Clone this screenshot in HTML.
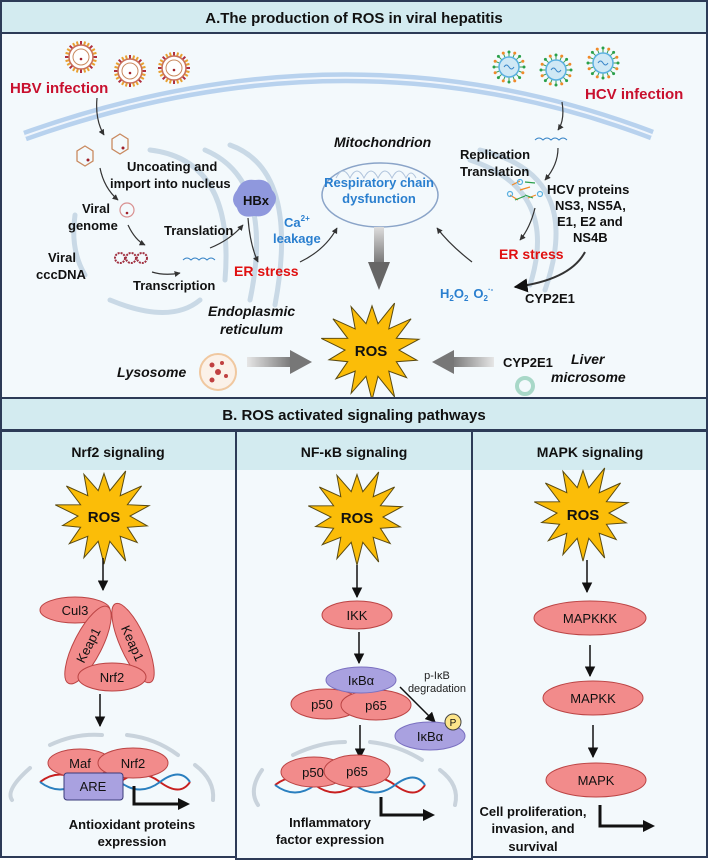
<!DOCTYPE html>
<html><head><meta charset="utf-8"><style>
html,body{margin:0;padding:0;background:#fff}
svg{display:block;font-family:"Liberation Sans",Arial,sans-serif}
.b{font-weight:bold}
</style></head><body>
<svg id="s" width="708" height="860" viewBox="0 0 708 860" xmlns="http://www.w3.org/2000/svg">
<defs>
<marker id="ah" viewBox="0 0 10 10" refX="9" refY="5" markerWidth="7" markerHeight="7" orient="auto-start-reverse"><path d="M0,0L10,5L0,10z" fill="#111"/></marker>
<marker id="ahs" viewBox="0 0 10 10" refX="9" refY="5" markerWidth="5" markerHeight="5" orient="auto"><path d="M0,0L10,5L0,10z" fill="#333"/></marker>
<linearGradient id="gd" x1="0" y1="0" x2="0" y2="1"><stop offset="0" stop-color="#ddd"/><stop offset="1" stop-color="#777"/></linearGradient>
<linearGradient id="gr" x1="0" y1="0" x2="1" y2="0"><stop offset="0" stop-color="#e6e6e6"/><stop offset="1" stop-color="#777"/></linearGradient>
<linearGradient id="gl" x1="1" y1="0" x2="0" y2="0"><stop offset="0" stop-color="#e6e6e6"/><stop offset="1" stop-color="#777"/></linearGradient>
</defs>
<!-- Panel A -->
<rect x="1" y="1" width="706" height="397" fill="#f3f9fc" stroke="#2d3b57" stroke-width="2"/>
<rect x="1" y="1" width="706" height="32" fill="#d3ebf0" stroke="#2d3b57" stroke-width="2"/>
<text x="354" y="23" text-anchor="middle" font-size="15" class="b" fill="#111">A.The production of ROS in viral hepatitis</text>
<!-- membrane -->
<path d="M25,136 Q350,20 652,135" fill="none" stroke="#b8d2ee" stroke-width="11"/>
<path d="M25,136 Q350,20 652,135" fill="none" stroke="#fff" stroke-width="2" opacity="0.8"/>
<!-- nucleus arcs -->
<g fill="none" stroke="#c9d9e6" stroke-width="5" stroke-linecap="round">
<path d="M110,300 Q170,325 200,300"/><path d="M85,275 Q70,250 75,215"/><path d="M150,150 Q235,160 225,280"/>
<path d="M205,150 Q275,180 250,300"/><path d="M230,145 Q300,170 275,305"/>
<path d="M470,160 Q560,190 530,285"/><path d="M480,150 Q585,175 545,290"/>
</g>
<ellipse cx="380" cy="195" rx="58" ry="32" fill="none" stroke="#8aa4c8" stroke-width="1.5"/>
<path d="M336,178 q7,-14 14,0 q7,-14 14,0 q7,-14 14,0 q7,-14 14,0 q7,-14 14,0 q5,-10 10,0" fill="none" stroke="#b0c4dc" stroke-width="1"/>
<!-- HBV viruses -->
<g id="hbv"></g>
<g id="hcv"></g>
<text x="10" y="93" font-size="15" class="b" fill="#c8102e">HBV infection</text>
<text x="585" y="99" font-size="15" class="b" fill="#c8102e">HCV infection</text>
<path d="M97,98 Q95,120 104,135" fill="none" stroke="#333" stroke-width="1.2" marker-end="url(#ahs)"/>
<polygon points="85,146 93,151 93,161 85,166 77,161 77,151" fill="none" stroke="#c98a60" stroke-width="1.3"/>
<polygon points="120,134 128,139 128,149 120,154 112,149 112,139" fill="none" stroke="#c98a60" stroke-width="1.3"/>
<circle cx="88" cy="160" r="1.5" fill="#a0202a"/><circle cx="123" cy="148" r="1.5" fill="#a0202a"/>
<path d="M100,168 Q104,188 118,200" fill="none" stroke="#333" stroke-width="1.2" marker-end="url(#ahs)"/>
<text x="127" y="171" font-size="13" class="b" fill="#111">Uncoating and</text>
<text x="110" y="188" font-size="13" class="b" fill="#111">import into nucleus</text>
<circle cx="127" cy="210" r="7" fill="none" stroke="#d99090" stroke-width="1.2"/><circle cx="127" cy="213" r="1.3" fill="#a0202a"/>
<text x="82" y="213" font-size="13" class="b" fill="#111">Viral</text>
<text x="68" y="230" font-size="13" class="b" fill="#111">genome</text>
<text x="48" y="262" font-size="13" class="b" fill="#111">Viral</text>
<text x="36" y="279" font-size="13" class="b" fill="#111">cccDNA</text>
<g fill="none" stroke="#a03040" stroke-width="2" stroke-dasharray="2,1"><circle cx="120" cy="258" r="5"/><circle cx="131" cy="258" r="5"/><circle cx="142" cy="258" r="5"/></g>
<path d="M128,225 Q135,240 145,245" fill="none" stroke="#333" stroke-width="1.2" marker-end="url(#ahs)"/>
<path d="M152,272 Q165,276 180,273" fill="none" stroke="#333" stroke-width="1.2" marker-end="url(#ahs)"/>
<path d="M183,260 q4,-4 8,0 q4,-4 8,0 q4,-4 8,0 q4,-4 8,0" fill="none" stroke="#3a86c8" stroke-width="1"/>
<text x="164" y="235" font-size="13" class="b" fill="#111">Translation</text>
<text x="133" y="290" font-size="13" class="b" fill="#111">Transcription</text>
<path d="M210,248 Q230,240 243,225" fill="none" stroke="#333" stroke-width="1.2" marker-end="url(#ahs)"/>
<path d="M248,218 Q250,245 258,262" fill="none" stroke="#333" stroke-width="1.2" marker-end="url(#ahs)"/>
<path d="M237,190 q5,-12 18,-10 q14,-2 17,10 q8,8 0,18 q-5,10 -18,8 q-14,3 -17,-8 q-8,-8 0,-18z" fill="#8f98dd"/>
<text x="243" y="205" font-size="13" class="b" fill="#111">HBx</text>
<text x="284" y="227" font-size="13" class="b" fill="#2a7fcf">Ca<tspan font-size="8" dy="-6">2+</tspan></text>
<text x="273" y="243" font-size="13" class="b" fill="#2a7fcf">leakage</text>
<text x="234" y="276" font-size="14" class="b" fill="#e01010">ER stress</text>
<path d="M300,262 Q325,250 337,228" fill="none" stroke="#333" stroke-width="1.2" marker-end="url(#ahs)"/>
<text x="208" y="316" font-size="14" class="b" font-style="italic" fill="#111">Endoplasmic</text>
<text x="220" y="334" font-size="14" class="b" font-style="italic" fill="#111">reticulum</text>
<text x="334" y="147" font-size="14" class="b" font-style="italic" fill="#111">Mitochondrion</text>
<text x="379" y="187" text-anchor="middle" font-size="13" class="b" fill="#2a7fcf">Respiratory chain</text>
<text x="379" y="203" text-anchor="middle" font-size="13" class="b" fill="#2a7fcf">dysfunction</text>
<rect x="374" y="227" width="10" height="36" fill="url(#gd)"/>
<polygon points="368,262 390,262 379,290" fill="#666"/>
<path d="M562,102 Q565,120 558,130" fill="none" stroke="#333" stroke-width="1.2" marker-end="url(#ahs)"/>
<path d="M535,140 q4,-4 8,0 q4,-4 8,0 q4,-4 8,0 q4,-4 8,0" fill="none" stroke="#3a86c8" stroke-width="1"/>
<path d="M558,148 Q558,165 545,180" fill="none" stroke="#333" stroke-width="1.2" marker-end="url(#ahs)"/>
<text x="460" y="159" font-size="13" class="b" fill="#111">Replication</text>
<text x="460" y="176" font-size="13" class="b" fill="#111">Translation</text>
<g stroke-width="1.2"><path d="M512,185 l8,-4 M520,190 l10,-3 M510,195 l8,5 M528,198 l8,-3" stroke="#f08a2a"/><path d="M525,182 l10,1 M515,200 l10,-4 M525,195 l8,3" stroke="#2aa04a"/>
<circle cx="520" cy="182" r="2.5" fill="none" stroke="#5ab0e0"/><circle cx="510" cy="194" r="2.5" fill="none" stroke="#5ab0e0"/><circle cx="540" cy="194" r="2.5" fill="none" stroke="#5ab0e0"/></g>
<text x="547" y="194" font-size="13" class="b" fill="#111">HCV proteins</text>
<text x="555" y="210" font-size="13" class="b" fill="#111">NS3, NS5A,</text>
<text x="557" y="226" font-size="13" class="b" fill="#111">E1, E2 and</text>
<text x="573" y="242" font-size="13" class="b" fill="#111">NS4B</text>
<path d="M535,208 Q530,228 520,240" fill="none" stroke="#333" stroke-width="1.2" marker-end="url(#ahs)"/>
<text x="499" y="259" font-size="14" class="b" fill="#e01010">ER stress</text>
<path d="M585,252 Q570,280 515,287" fill="none" stroke="#333" stroke-width="2" marker-end="url(#ah)"/>
<text x="440" y="298" font-size="13" class="b" fill="#2a7fcf">H<tspan font-size="8" dy="3">2</tspan><tspan dy="-3">O</tspan><tspan font-size="8" dy="3">2</tspan><tspan dy="-3" dx="5">O</tspan><tspan font-size="8" dy="3">2</tspan><tspan font-size="8" dy="-9">·-</tspan></text>
<text x="525" y="303" font-size="13" class="b" fill="#111">CYP2E1</text>
<path d="M472,262 Q450,245 437,228" fill="none" stroke="#333" stroke-width="1.2" marker-end="url(#ahs)"/>
<!-- ROS central -->
<g id="starA"></g>
<text x="371" y="356" text-anchor="middle" font-size="15" class="b" fill="#111">ROS</text>
<circle cx="218" cy="372" r="18" fill="#fbf1e8" stroke="#f0c8a0" stroke-width="2"/>
<g fill="#c04040"><circle cx="212" cy="365" r="2.5"/><circle cx="222" cy="363" r="2"/><circle cx="218" cy="372" r="3"/><circle cx="226" cy="376" r="2"/><circle cx="212" cy="380" r="2.5"/></g>
<text x="117" y="377" font-size="14" class="b" font-style="italic" fill="#111">Lysosome</text>
<rect x="247" y="357" width="45" height="10" fill="url(#gr)"/><polygon points="290,350 312,362 290,374" fill="#777"/>
<rect x="452" y="357" width="42" height="10" fill="url(#gl)"/><polygon points="454,350 432,362 454,374" fill="#777"/>
<text x="503" y="367" font-size="13" class="b" fill="#111">CYP2E1</text>
<text x="571" y="364" font-size="14" class="b" font-style="italic" fill="#111">Liver</text>
<text x="551" y="382" font-size="14" class="b" font-style="italic" fill="#111">microsome</text>
<circle cx="525" cy="386" r="8" fill="none" stroke="#a8d8c8" stroke-width="4"/>
<!-- Panel B header -->
<rect x="1" y="398" width="706" height="32" fill="#d3ebf0" stroke="#2d3b57" stroke-width="2"/>
<text x="354" y="420" text-anchor="middle" font-size="15" class="b" fill="#111">B. ROS activated signaling pathways</text>
<!-- columns -->
<g stroke="#2d3b57" stroke-width="2">
<rect x="1" y="431" width="235" height="426" fill="#f3f9fc"/>
<rect x="236" y="431" width="236" height="428" fill="#f3f9fc"/>
<rect x="472" y="431" width="235" height="426" fill="#f3f9fc"/>
</g>
<rect x="2" y="432" width="233" height="38" fill="#d3ebf0"/>
<rect x="237" y="432" width="234" height="38" fill="#d3ebf0"/>
<rect x="473" y="432" width="233" height="38" fill="#d3ebf0"/>
<text x="118" y="457" text-anchor="middle" font-size="14" class="b" fill="#111">Nrf2 signaling</text>
<text x="354" y="457" text-anchor="middle" font-size="14" class="b" fill="#111">NF-κB signaling</text>
<text x="590" y="457" text-anchor="middle" font-size="14" class="b" fill="#111">MAPK signaling</text>
<g id="stars"></g>
<text x="104" y="522" text-anchor="middle" font-size="15" class="b" fill="#111">ROS</text>
<text x="357" y="523" text-anchor="middle" font-size="15" class="b" fill="#111">ROS</text>
<text x="583" y="520" text-anchor="middle" font-size="15" class="b" fill="#111">ROS</text>
<g stroke="#111" stroke-width="1.5" marker-end="url(#ah)">
<line x1="103" y1="558" x2="103" y2="590"/><line x1="100" y1="694" x2="100" y2="726"/>
<line x1="357" y1="565" x2="357" y2="597"/><line x1="359" y1="632" x2="359" y2="663"/><line x1="360" y1="725" x2="360" y2="758"/>
<line x1="400" y1="687" x2="435" y2="722"/>
<line x1="587" y1="560" x2="587" y2="592"/><line x1="590" y1="645" x2="590" y2="676"/><line x1="593" y1="725" x2="593" y2="757"/>
</g>
<!-- nucleus arcs B -->
<g fill="none" stroke="#c9d3dc" stroke-width="4" stroke-linecap="round">
<path d="M50,745 Q75,733 102,735"/><path d="M127,735 Q155,738 178,755"/><path d="M30,768 Q5,790 12,800"/><path d="M195,765 Q215,780 213,800"/>
<path d="M293,755 Q320,742 345,742"/><path d="M370,742 Q398,745 422,760"/><path d="M262,770 Q248,790 258,805"/><path d="M440,770 Q460,785 455,805"/>
</g>
<g stroke="#b44" stroke-width="1" fill="#f28b8b">
<ellipse cx="75" cy="610" rx="35" ry="13"/>
<ellipse cx="88" cy="645" rx="43" ry="14" transform="rotate(-63 88 645)"/>
<ellipse cx="133" cy="643" rx="43" ry="13" transform="rotate(66 133 643)"/>
<ellipse cx="112" cy="677" rx="34" ry="14"/>
</g>
<g font-size="13" fill="#111" text-anchor="middle">
<text x="75" y="615">Cul3</text>
<text x="88" y="650" transform="rotate(-63 88 645)">Keap1</text>
<text x="133" y="648" transform="rotate(66 133 643)">Keap1</text>
<text x="112" y="682">Nrf2</text>
</g>
<!-- DNA -->
<g fill="none" stroke-width="2">
<path d="M40,782 q20,-15 40,0 t40,0 t40,0 t30,0" stroke="#c82020"/>
<path d="M40,782 q20,15 40,0 t40,0 t40,0 t30,0" stroke="#2a7fbf"/>
<path d="M275,785 q20,-15 40,0 t40,0 t40,0 t30,0" stroke="#c82020"/>
<path d="M275,785 q20,15 40,0 t40,0 t40,0 t30,0" stroke="#2a7fbf"/>
</g>
<g stroke="#b44" stroke-width="1" fill="#f28b8b">
<ellipse cx="80" cy="763" rx="32" ry="14"/><ellipse cx="133" cy="763" rx="35" ry="15"/>
</g>
<rect x="64" y="773" width="59" height="27" rx="3" fill="#a9a1e0" stroke="#3a3a7a"/>
<g font-size="13" fill="#111" text-anchor="middle"><text x="80" y="768">Maf</text><text x="133" y="768">Nrf2</text><text x="93" y="791">ARE</text></g>
<path d="M134,786 V804 H180" fill="none" stroke="#111" stroke-width="3"/><polygon points="178,798 190,804 178,810" fill="#111"/>
<text x="132" y="829" text-anchor="middle" font-size="13" class="b" fill="#111">Antioxidant proteins</text>
<text x="132" y="846" text-anchor="middle" font-size="13" class="b" fill="#111">expression</text>
<!-- NFkB -->
<g stroke="#b44" stroke-width="1" fill="#f28b8b">
<ellipse cx="357" cy="615" rx="35" ry="14"/>
<ellipse cx="326" cy="704" rx="35" ry="15"/><ellipse cx="376" cy="705" rx="35" ry="15"/>
</g>
<ellipse cx="361" cy="680" rx="35" ry="13" fill="#a9a1e0" stroke="#7a70c0"/>
<ellipse cx="430" cy="736" rx="35" ry="14" fill="#a9a1e0" stroke="#7a70c0"/>
<circle cx="453" cy="722" r="8" fill="#fde58a" stroke="#444"/>
<text x="453" y="726" text-anchor="middle" font-size="10" fill="#111">P</text>
<g stroke="#b44" stroke-width="1" fill="#f28b8b">
<ellipse cx="314" cy="772" rx="33" ry="15"/><ellipse cx="357" cy="771" rx="33" ry="16"/>
</g>
<g font-size="13" fill="#111" text-anchor="middle">
<text x="357" y="620">IKK</text><text x="361" y="685">IκBα</text><text x="322" y="709">p50</text><text x="376" y="710">p65</text>
<text x="430" y="741">IκBα</text><text x="313" y="777">p50</text><text x="357" y="776">p65</text>
</g>
<text x="437" y="679" text-anchor="middle" font-size="11" fill="#222">p-IκB</text>
<text x="437" y="692" text-anchor="middle" font-size="11" fill="#222">degradation</text>
<path d="M381,797 V815 H425" fill="none" stroke="#111" stroke-width="3"/><polygon points="423,809 435,815 423,821" fill="#111"/>
<text x="330" y="827" text-anchor="middle" font-size="13" class="b" fill="#111">Inflammatory</text>
<text x="330" y="844" text-anchor="middle" font-size="13" class="b" fill="#111">factor expression</text>
<!-- MAPK -->
<g stroke="#b44" stroke-width="1" fill="#f28b8b">
<ellipse cx="590" cy="618" rx="56" ry="17"/><ellipse cx="593" cy="698" rx="50" ry="17"/><ellipse cx="596" cy="780" rx="50" ry="17"/>
</g>
<g font-size="13" fill="#111" text-anchor="middle"><text x="590" y="623">MAPKKK</text><text x="593" y="703">MAPKK</text><text x="596" y="785">MAPK</text></g>
<path d="M600,805 V826 H645" fill="none" stroke="#111" stroke-width="3"/><polygon points="643,820 655,826 643,832" fill="#111"/>
<text x="533" y="816" text-anchor="middle" font-size="13" class="b" fill="#111">Cell proliferation,</text>
<text x="533" y="833" text-anchor="middle" font-size="13" class="b" fill="#111">invasion, and</text>
<text x="533" y="851" text-anchor="middle" font-size="13" class="b" fill="#111">survival</text>
</svg>
<script>
var NS="http://www.w3.org/2000/svg";
function star(g,cx,cy,R,r,n){var p=[];for(var i=0;i<2*n;i++){var a=-Math.PI/2+i*Math.PI/n;var rr=i%2?r:R*(0.85+0.15*((i*7)%5)/4);p.push((cx+rr*Math.cos(a)).toFixed(1)+","+(cy+rr*Math.sin(a)).toFixed(1));}
var e=document.createElementNS(NS,"polygon");e.setAttribute("points",p.join(" "));e.setAttribute("fill","#fbbd08");e.setAttribute("stroke","#5a4a10");e.setAttribute("stroke-width","1");g.appendChild(e);}
star(document.getElementById("starA"),372,350,52,27,14);
var s=document.getElementById("stars");star(s,104,516,50,26,14);star(s,357,517,50,26,14);star(s,583,513,50,26,14);
function hbv(cx,cy){var g=document.getElementById("hbv");var h='';for(var i=0;i<24;i++){var a=i*Math.PI/12;h+='<line x1="'+(cx+12*Math.cos(a))+'" y1="'+(cy+12*Math.sin(a))+'" x2="'+(cx+16*Math.cos(a))+'" y2="'+(cy+16*Math.sin(a))+'" stroke="'+(i%3?'#e8a030':'#b03040')+'" stroke-width="2"/>';}
h+='<circle cx="'+cx+'" cy="'+cy+'" r="12" fill="#fff" stroke="#c9705a" stroke-width="1.5"/><circle cx="'+cx+'" cy="'+cy+'" r="8" fill="none" stroke="#c98a60"/><circle cx="'+cx+'" cy="'+(cy+2)+'" r="1.3" fill="#a0202a"/>';g.innerHTML+=h;}
hbv(81,57);hbv(130,71);hbv(174,68);
function hcv(cx,cy){var g=document.getElementById("hcv");var h='';for(var i=0;i<16;i++){var a=i*Math.PI/8;h+='<line x1="'+(cx+10*Math.cos(a))+'" y1="'+(cy+10*Math.sin(a))+'" x2="'+(cx+15*Math.cos(a))+'" y2="'+(cy+15*Math.sin(a))+'" stroke="#3aa050" stroke-width="1"/><circle cx="'+(cx+15*Math.cos(a))+'" cy="'+(cy+15*Math.sin(a))+'" r="1.5" fill="'+(i%2?'#f08a2a':'#2aa04a')+'"/>';}
h+='<circle cx="'+cx+'" cy="'+cy+'" r="10" fill="#cfe8f5" stroke="#5ab0e0" stroke-width="1.5"/><path d="M'+(cx-5)+','+cy+' q2.5,-4 5,0 t5,0" fill="none" stroke="#3a86c8"/>';g.innerHTML+=h;}
hcv(509,67);hcv(556,70);hcv(603,63);
</script>
</body></html>
